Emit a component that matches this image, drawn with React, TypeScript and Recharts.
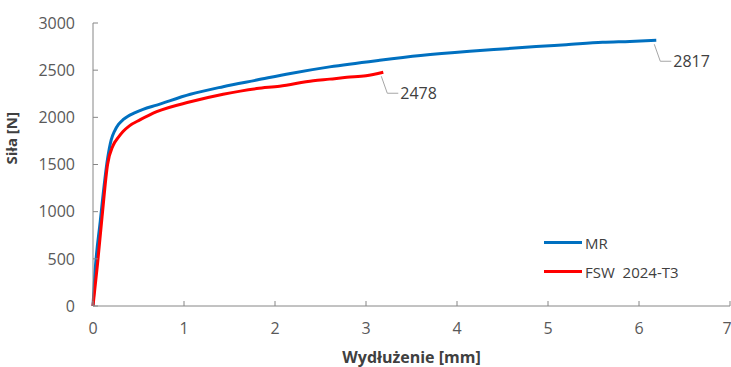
import { LineChart, Line, XAxis, YAxis, LabelList } from 'recharts';

const mrX = [0, 0.02, 0.08, 0.16, 0.2, 0.24, 0.28, 0.33, 0.38, 0.45, 0.55, 0.7, 1.07, 1.43, 1.8, 2.17, 2.6, 3.15, 3.6, 4.14, 4.5, 4.87, 5.2, 5.6, 5.9, 6.19];
const mrY = [0, 330, 900, 1560, 1760, 1860, 1925, 1975, 2010, 2045, 2085, 2130, 2245, 2325, 2395, 2465, 2535, 2605, 2655, 2700, 2725, 2750, 2770, 2795, 2805, 2817];

const fswX = [0, 0.05, 0.1, 0.16, 0.22, 0.28, 0.33, 0.4, 0.52, 0.7, 1.07, 1.43, 1.8, 2.05, 2.42, 2.6, 2.79, 3.0, 3.19];
const fswY = [0, 450, 950, 1500, 1700, 1790, 1850, 1910, 1975, 2060, 2165, 2245, 2305, 2330, 2388, 2405, 2424, 2440, 2478];

const xTicks = [0, 1, 2, 3, 4, 5, 6, 7];
const yTicks = [0, 500, 1000, 1500, 2000, 2500, 3000];

const mrData = mrX.map((x, i) => ({ x, y: mrY[i] }));
const fswData = fswX.map((x, i) => ({ x, y: fswY[i] }));

const series = [
  { name: 'MR', color: '#0070C0' },
  { name: 'FSW  2024-T3', color: '#FF0000' },
];

const FONT = '"Open Sans", sans-serif';

function endLabel(lastIndex: number) {
  return (props: any) => {
    const { x, y, index, value } = props;
    if (index !== lastIndex) return null;
    return (
      <g>
        <polyline
          points={`${x - 2},${y + 4} ${x + 4},${y + 21} ${x + 15},${y + 21}`}
          fill="none"
          stroke="#A6A6A6"
          strokeWidth={1}
        />
        <text x={x + 17} y={y + 21} dy="0.35em" fontSize={16} fill="#404040" fontFamily={FONT}>
          {value}
        </text>
      </g>
    );
  };
}

function ChartLegend() {
  return (
    <div style={{ position: 'absolute', left: 544, top: 228, fontFamily: FONT, fontSize: 15, color: '#404040' }}>
      {series.map((s) => (
        <div key={s.name} style={{ display: 'flex', alignItems: 'center', height: 29 }}>
          <div style={{ width: 38, height: 3, background: s.color, marginRight: 3 }} />
          <span style={{ whiteSpace: 'pre' }}>{s.name}</span>
        </div>
      ))}
    </div>
  );
}

export default function App() {
  return (
    <div style={{ position: 'absolute', left: 0, top: 0, width: 731, height: 367, background: '#fff' }}>
      <LineChart width={731} height={367} margin={{ top: 23, right: 1, bottom: 0, left: 0 }}>
        <XAxis
          dataKey="x"
          type="number"
          domain={[0, 7]}
          ticks={xTicks}
          allowDuplicatedCategory={false}
          height={61}
          tickSize={-5}
          tickMargin={22}
          stroke="#868686"
          tick={{ fill: '#595959', fontSize: 16, fontFamily: FONT }}
          label={{ value: 'Wydłużenie [mm]', position: 'insideBottom', offset: 4, fill: '#404040', fontSize: 16, fontWeight: 'bold', fontFamily: FONT }}
        />
        <YAxis
          type="number"
          domain={[0, 3000]}
          ticks={yTicks}
          width={93}
          tickSize={-5}
          tickMargin={23}
          stroke="#868686"
          tick={{ fill: '#595959', fontSize: 16, fontFamily: FONT }}
          label={{ value: 'Siła [N]', angle: -90, position: 'insideLeft', offset: 12, fill: '#404040', fontSize: 15, fontWeight: 'bold', fontFamily: FONT }}
        />
        <Line
          data={mrData}
          dataKey="y"
          name={series[0].name}
          stroke={series[0].color}
          strokeWidth={3}
          dot={false}
          type="monotone"
          isAnimationActive={false}
        >
          <LabelList dataKey="y" content={endLabel(mrData.length - 1)} />
        </Line>
        <Line
          data={fswData}
          dataKey="y"
          name={series[1].name}
          stroke={series[1].color}
          strokeWidth={3}
          dot={false}
          type="monotone"
          isAnimationActive={false}
        >
          <LabelList dataKey="y" content={endLabel(fswData.length - 1)} />
        </Line>
      </LineChart>
      <ChartLegend />
    </div>
  );
}
